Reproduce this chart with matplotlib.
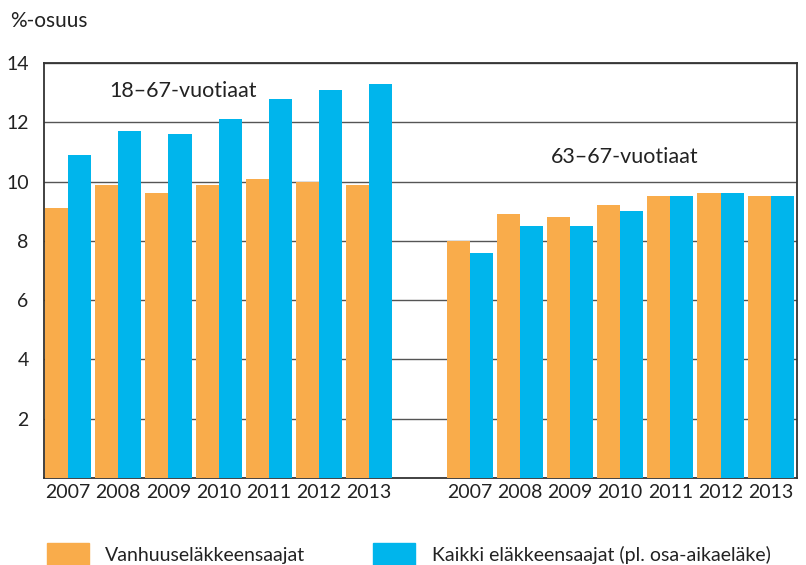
import numpy as np
import matplotlib
matplotlib.use("Agg")
import matplotlib.pyplot as plt
from matplotlib.patches import Patch

plt.rcParams['font.family'] = ['Lato', 'DejaVu Sans']

# data
years = ["2007", "2008", "2009", "2010", "2011", "2012", "2013"]
vanhuus_18_67 = [9.1, 9.9, 9.6, 9.9, 10.1, 10.0, 9.9]
kaikki_18_67 = [10.9, 11.7, 11.6, 12.1, 12.8, 13.1, 13.3]
vanhuus_63_67 = [8.0, 8.9, 8.8, 9.2, 9.5, 9.6, 9.5]
kaikki_63_67 = [7.6, 8.5, 8.5, 9.0, 9.5, 9.6, 9.5]
series_labels = ["Vanhuuseläkkeensaajat", "Kaikki eläkkeensaajat (pl. osa-aikaeläke)"]
group_labels = ["18–67-vuotiaat", "63–67-vuotiaat"]

orange = "#F9AC4B"
blue = "#00B5EC"
text_col = "#222222"

fig = plt.figure(figsize=(8.06, 5.65), dpi=100)
ax = fig.add_axes([0.0546, 0.154, 0.934, 0.7345])

x1 = np.arange(len(years))
x2 = x1 + 8
w = 0.46

ax.bar(x1 - w / 2, vanhuus_18_67, w, color=orange, zorder=3)
ax.bar(x1 + w / 2, kaikki_18_67, w, color=blue, zorder=3)
ax.bar(x2 - w / 2, vanhuus_63_67, w, color=orange, zorder=3)
ax.bar(x2 + w / 2, kaikki_63_67, w, color=blue, zorder=3)

ax.set_xlim(-0.48, 14.52)
ax.set_ylim(0, 14)
ax.set_yticks([2, 4, 6, 8, 10, 12, 14])
ax.set_xticks(np.concatenate([x1, x2]))
ax.set_xticklabels(years + years)
ax.tick_params(length=0, labelsize=14, colors=text_col, pad=4)
ax.tick_params(axis='y', pad=11)
ax.yaxis.grid(True, color="#555555", linewidth=1, zorder=0)
ax.set_axisbelow(True)
for s in ax.spines.values():
    s.set_color("#333333")
    s.set_linewidth(1.3)

ax.text(2.29, 13.06, group_labels[0], ha='center', va='center', fontsize=15.5, color=text_col)
ax.text(11.1, 10.83, group_labels[1], ha='center', va='center', fontsize=15.5, color=text_col)

fig.text(0.012, 0.962, "%-osuus", ha='left', va='center', fontsize=15, color=text_col)

handles = [Patch(color=orange), Patch(color=blue)]
fig.legend(handles, series_labels, loc='center left', bbox_to_anchor=(0.046, 0.018),
           ncol=2, frameon=False, fontsize=14, handlelength=2.15, handleheight=1.5,
           handletextpad=0.85, columnspacing=3.5, labelcolor=text_col, borderpad=0)

fig.savefig("out.png", dpi=100)
